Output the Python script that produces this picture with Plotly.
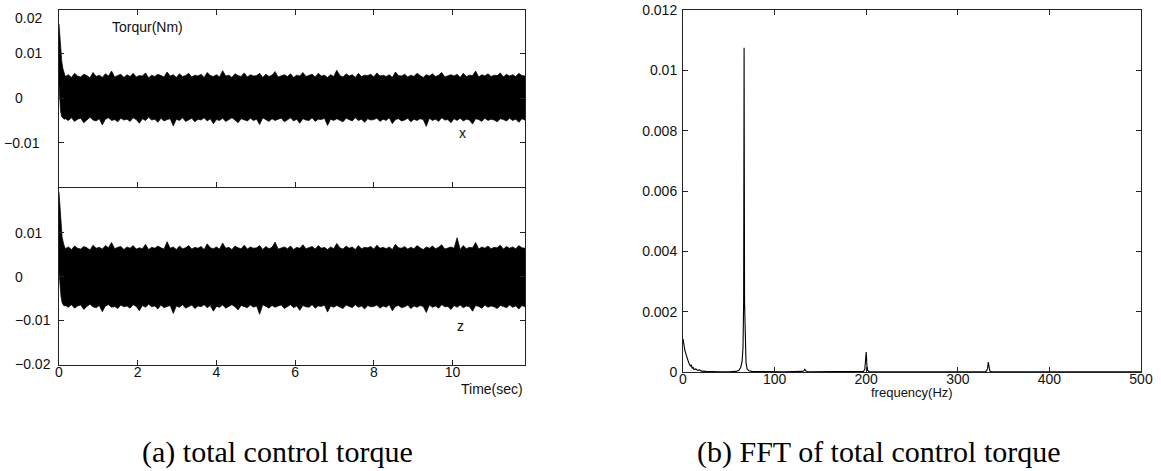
import numpy as np
import plotly.graph_objects as go

# ---------------- data ----------------
# (a) total control torque -- start-up transient (time s, envelope Nm)
x_trans_t = [0.0, 0.02, 0.04, 0.07, 0.10, 0.13]
x_trans_upper = [0.0165, 0.0135, 0.0105, 0.0082, 0.0065, 0.0056]
x_trans_lower = [0.0030, 0.0000, -0.0030, -0.0042, -0.0046, -0.0047]

z_trans_t = [0.0, 0.02, 0.05, 0.08, 0.12, 0.15]
z_trans_upper = [0.0193, 0.0160, 0.0120, 0.0090, 0.0074, 0.0068]
z_trans_lower = [0.0010, -0.0020, -0.0045, -0.0060, -0.0066, -0.0067]

# steady part: local maxima / minima of the oscillation, in 1e-4 Nm
steady_t_start, steady_t_end = 0.16, 11.84
x_upper_e4 = [
    48, 52, 46, 55, 49, 47, 53, 50, 45, 57, 48, 51, 46, 54, 49, 60, 47, 50, 53, 46,
    52, 48, 55, 47, 50, 49, 56, 45, 51, 48, 53, 50, 47, 58, 49, 52, 46, 54, 48, 50,
    55, 47, 51, 49, 53, 46, 57, 50, 48, 52, 47, 61, 49, 51, 46, 54, 50, 48, 56, 47,
    52, 49, 50, 55, 46, 53, 48, 51, 59, 47, 50, 52, 48, 54, 46, 51, 49, 57, 48, 50,
    53, 47, 55, 49, 51, 46, 52, 48, 62, 50, 47, 54, 49, 52, 46, 55, 48, 51, 50, 53,
    47, 56, 49, 51, 48, 52, 46, 58, 50, 49, 53, 47, 51, 48, 55, 50, 46, 52, 49, 54,
    48, 51, 57, 47, 50, 52, 49, 53, 46, 55, 48, 51, 50, 60, 47, 52, 49, 54, 48, 51,
    50, 56, 47, 53, 49, 52, 48, 55, 50, 49]
x_lower_e4 = [
    -46, -50, -44, -52, -47, -45, -55, -48, -43, -49, -51, -46, -60, -47, -44, -50, -48, -53, -45, -49,
    -47, -52, -44, -48, -56, -46, -50, -43, -49, -47, -54, -45, -51, -48, -46, -62, -47, -50, -44, -52,
    -48, -45, -53, -47, -49, -44, -51, -46, -57, -48, -50, -45, -52, -47, -44, -49, -55, -46, -48, -51,
    -45, -50, -47, -59, -44, -48, -52, -46, -50, -47, -45, -53, -48, -44, -51, -47, -56, -46, -49, -50,
    -44, -52, -47, -48, -45, -61, -47, -50, -46, -49, -53, -45, -48, -51, -44, -50, -47, -54, -46, -49,
    -48, -45, -52, -47, -50, -44, -57, -48, -46, -51, -49, -45, -53, -47, -50, -46, -48, -63, -45, -50,
    -47, -52, -44, -49, -48, -55, -46, -50, -45, -51, -47, -49, -58, -46, -48, -52, -45, -50, -47, -49,
    -53, -46, -48, -51, -45, -50, -47, -54, -46, -49]
z_upper_e4 = [
    64, 68, 62, 70, 65, 63, 69, 66, 61, 72, 65, 67, 63, 71, 66, 78, 64, 67, 69, 62,
    68, 65, 71, 63, 66, 64, 74, 62, 67, 65, 70, 66, 63, 80, 65, 68, 62, 70, 64, 66,
    71, 63, 67, 65, 69, 62, 75, 66, 64, 68, 63, 77, 65, 67, 62, 70, 66, 64, 72, 63,
    68, 65, 66, 71, 62, 69, 64, 67, 79, 63, 66, 68, 64, 70, 62, 67, 65, 73, 64, 66,
    69, 63, 71, 65, 67, 62, 68, 64, 76, 66, 63, 70, 65, 68, 62, 71, 64, 67, 66, 69,
    63, 72, 65, 67, 64, 68, 62, 74, 66, 65, 69, 63, 67, 64, 71, 66, 62, 68, 65, 70,
    64, 67, 73, 63, 66, 68, 65, 89, 62, 71, 64, 67, 66, 78, 63, 68, 65, 70, 64, 67,
    66, 72, 63, 69, 65, 68, 64, 71, 66, 65]
z_lower_e4 = [
    -66, -70, -64, -72, -67, -65, -75, -68, -63, -69, -71, -66, -80, -67, -64, -70, -68, -73, -65, -69,
    -67, -72, -64, -68, -78, -66, -70, -63, -69, -67, -74, -65, -71, -68, -66, -84, -67, -70, -64, -72,
    -68, -65, -73, -67, -69, -64, -71, -66, -79, -68, -70, -65, -72, -67, -64, -69, -76, -66, -68, -71,
    -65, -70, -67, -86, -64, -68, -72, -66, -70, -67, -65, -73, -68, -64, -71, -67, -77, -66, -69, -70,
    -64, -72, -67, -68, -65, -81, -67, -70, -66, -69, -73, -65, -68, -71, -64, -70, -67, -74, -66, -69,
    -68, -65, -72, -67, -70, -64, -78, -68, -66, -71, -69, -65, -73, -67, -70, -66, -68, -82, -65, -70,
    -67, -72, -64, -69, -68, -75, -66, -70, -65, -71, -67, -69, -79, -66, -68, -72, -65, -70, -67, -69,
    -73, -66, -68, -71, -65, -70, -67, -74, -66, -69]

time_ticks = [0, 2, 4, 6, 8, 10]
torque_ticks_x = [0.02, 0.01, 0.0, -0.01]
torque_labels_x = ["0.02", "0.01", "0", "\u22120.01"]
torque_ticks_z = [0.01, 0.0, -0.01, -0.02]
torque_labels_z = ["0.01", "0", "\u22120.01", "\u22120.02"]

# (b) FFT of total control torque
freq_hz = [0, 1, 2, 3, 4, 5, 6, 7, 8, 9, 10, 11, 12, 14, 16, 18, 20, 25, 30, 40, 50,
           58, 61, 63, 64.5, 65.5, 66.2, 66.7, 67.2, 67.9, 68.8, 70, 72, 75, 90, 110,
           130, 132, 133, 134, 136, 160, 190, 197, 198.5, 199.3, 200, 200.7, 201.5, 203,
           230, 280, 320, 330, 331.5, 332.5, 333.3, 334, 335, 337, 380, 450, 500]
fft_amp = [0.00110, 0.00085, 0.00072, 0.00062, 0.00050, 0.00042, 0.00033, 0.00026,
           0.00020, 0.00024, 0.00012, 0.00016, 0.00008, 0.00010, 0.00005, 0.00007,
           0.00003, 0.00002, 0.00001, 0.00001, 0.00001,
           0.00002, 0.00006, 0.00015, 0.00035, 0.00080, 0.00230, 0.01075, 0.00230,
           0.00080, 0.00030, 0.00010, 0.00004, 0.00002, 0.00001, 0.00001,
           0.00002, 0.00004, 0.00009, 0.00004, 0.00001, 0.00001, 0.00001, 0.00002,
           0.00010, 0.00030, 0.00066, 0.00025, 0.00006, 0.00001,
           0.00001, 0.00001, 0.00001, 0.00001, 0.00004, 0.00012, 0.00033, 0.00010,
           0.00003, 0.00001, 0.00001, 0.00001, 0.00001]
freq_ticks = [0, 100, 200, 300, 400, 500]
amp_ticks = [0, 0.002, 0.004, 0.006, 0.008, 0.01, 0.012]

# ---------------- build ----------------
def envelope(trans_t, trans_u, trans_l, up_e4, lo_e4):
    n = len(up_e4)
    t = list(np.linspace(steady_t_start, steady_t_end, n))
    up = [v * 1e-4 for v in up_e4]
    lo = [v * 1e-4 for v in lo_e4]
    return trans_t + t, trans_u + up, trans_l + lo

W, H = 1161, 471
def px_x(a, b):
    return [a / W, b / W]
def px_y(top, bottom):
    return [1 - bottom / H, 1 - top / H]

fig = go.Figure()
ink = "#111111"

for (tt, tu, tl, ue, le, ax) in [
    (x_trans_t, x_trans_upper, x_trans_lower, x_upper_e4, x_lower_e4, ("x", "y")),
    (z_trans_t, z_trans_upper, z_trans_lower, z_upper_e4, z_lower_e4, ("x2", "y2")),
]:
    t, up, lo = envelope(tt, tu, tl, ue, le)
    fig.add_trace(go.Scatter(x=t, y=lo, mode="lines", line=dict(color="black", width=0.7),
                             xaxis=ax[0], yaxis=ax[1], showlegend=False, hoverinfo="skip"))
    fig.add_trace(go.Scatter(x=t, y=up, mode="lines", line=dict(color="black", width=0.7),
                             fill="tonexty", fillcolor="black",
                             xaxis=ax[0], yaxis=ax[1], showlegend=False, hoverinfo="skip"))

fig.add_trace(go.Scatter(x=freq_hz, y=fft_amp, mode="lines", line=dict(color="black", width=1.1),
                         xaxis="x3", yaxis="y3", showlegend=False, hoverinfo="skip"))

tick_font = dict(family="Liberation Sans, Arial, sans-serif", size=14, color=ink)
axis_common = dict(showline=True, linecolor="#222", linewidth=1,
                   ticks="inside", ticklen=5, tickcolor="#222", showgrid=False, zeroline=False,
                   automargin=False, tickfont=tick_font)

left_dom = px_x(59, 525)
fig.update_layout(
    width=W, height=H, margin=dict(l=0, r=0, t=0, b=0, autoexpand=False),
    paper_bgcolor="white", plot_bgcolor="white",
    xaxis=dict(domain=left_dom, range=[0, 11.84], anchor="y", tickvals=time_ticks,
               showticklabels=False, mirror="ticks", **axis_common),
    yaxis=dict(domain=px_y(10, 187), range=[-0.0198, 0.0196], anchor="x",
               tickvals=torque_ticks_x, showticklabels=False, mirror="ticks", **axis_common),
    xaxis2=dict(domain=left_dom, range=[0, 11.84], anchor="y2", tickvals=time_ticks,
                ticktext=[str(v) for v in time_ticks], showticklabels=True, mirror=False,
                ticklabelstandoff=-6, **axis_common),
    yaxis2=dict(domain=px_y(187, 365), range=[-0.0202, 0.0205], anchor="x2",
                tickvals=torque_ticks_z, showticklabels=False, mirror="ticks", **axis_common),
    xaxis3=dict(domain=px_x(683, 1141), range=[0, 500], anchor="y3", tickvals=freq_ticks,
                ticktext=[str(v) for v in freq_ticks], mirror="ticks",
                ticklabelstandoff=-6, **axis_common),
    yaxis3=dict(domain=px_y(10, 372), range=[0, 0.012], anchor="x3", tickvals=amp_ticks,
                ticktext=["0", "0.002", "0.004", "0.006", "0.008", "0.01", "0.012"],
                ticklabelstandoff=2, mirror="ticks", **axis_common),
)

lab_font = dict(family="Liberation Sans, Arial, sans-serif", size=14, color=ink)
cap_font = dict(family="Liberation Serif, Times New Roman, serif", size=30, color="black")
ann = []
# left-justified torque tick labels
for v, s in zip(torque_ticks_x, torque_labels_x):
    yv = v if v < 0.015 else 0.0178
    ann.append(dict(x=(2 if s.startswith("\u2212") else 13) / W, xref="paper", xanchor="left",
                    y=yv, yref="y", yanchor="middle", text=s, showarrow=False, font=lab_font))
for v, s in zip(torque_ticks_z, torque_labels_z):
    ann.append(dict(x=13 / W, xref="paper", xanchor="left", y=v, yref="y2", yanchor="middle",
                    text=s, showarrow=False, font=lab_font))
ann += [
    dict(x=110 / W, xref="paper", xanchor="left", y=0.0158, yref="y", yanchor="middle",
         text="Torqur(Nm)", showarrow=False, font=lab_font),
    dict(x=10.25, xref="x", xanchor="center", y=-0.0078, yref="y", yanchor="middle",
         text="x", showarrow=False, font=lab_font),
    dict(x=10.2, xref="x2", xanchor="center", y=-0.0112, yref="y2", yanchor="middle",
         text="z", showarrow=False, font=lab_font),
    dict(x=525 / W, xref="paper", xanchor="right", y=1 - 389 / H, yref="paper", yanchor="middle",
         text="Time(sec)", showarrow=False, font=lab_font),
    dict(x=250, xref="x3", xanchor="center", y=1 - 392 / H, yref="paper", yanchor="middle",
         text="frequency(Hz)", showarrow=False, font=dict(lab_font, size=13)),
    dict(x=277.5 / W, xref="paper", xanchor="center", y=1 - 452 / H, yref="paper",
         yanchor="middle", text="(a) total control torque", showarrow=False, font=cap_font),
    dict(x=879 / W, xref="paper", xanchor="center", y=1 - 452 / H, yref="paper",
         yanchor="middle", text="(b) FFT of total control torque", showarrow=False,
         font=cap_font),
]
fig.update_layout(annotations=ann)

fig.write_html("out.html")
